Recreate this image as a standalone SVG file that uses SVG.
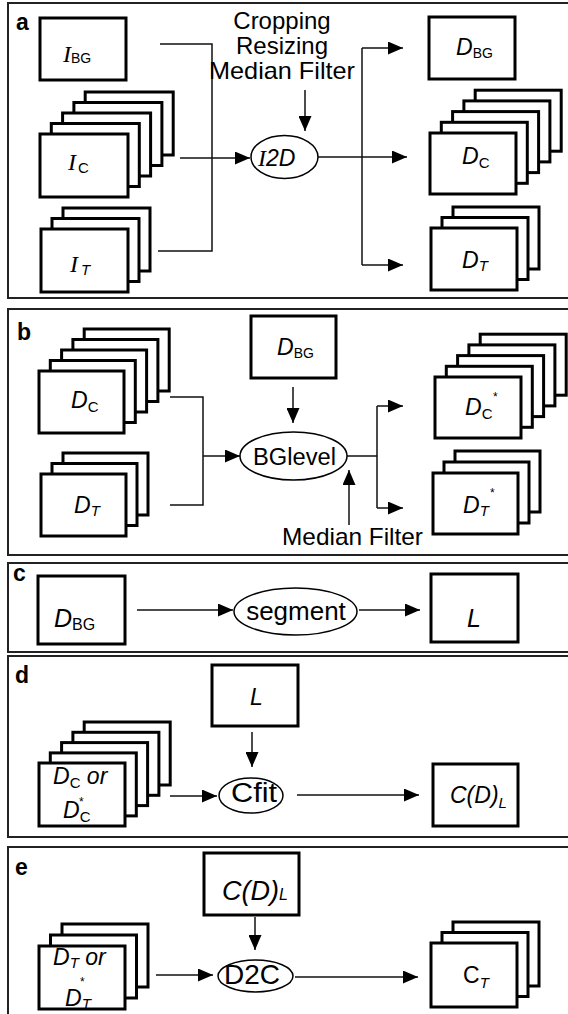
<svg xmlns="http://www.w3.org/2000/svg" width="568" height="1014" viewBox="0 0 568 1014">
<style>
.bg{fill:#fff}
.panel{fill:none;stroke:#222;stroke-width:2}
.box{fill:#fff;stroke:#000;stroke-width:3}
.ell{fill:#fff;stroke:#000;stroke-width:1.5}
.con path{fill:none;stroke:#111;stroke-width:1.5}
.arr{marker-end:url(#ah)}
text{font-family:"Liberation Sans",Arial,sans-serif;fill:#000}
.lab{font-size:23px;font-weight:bold}
.it{font-style:italic}
.ser{font-family:"Liberation Serif","Times New Roman",serif;font-style:italic;font-size:24px}
.m{font-size:23px}
.s{font-size:15px}
.s14{font-size:14px}
.ast{font-size:12px}
.big{font-size:24px}
</style>
<defs>
<marker id="ah" viewBox="0 0 15 13" refX="15" refY="6.5" markerWidth="15" markerHeight="13" markerUnits="userSpaceOnUse" orient="auto"><path d="M0,0L15,6.5L0,13z" fill="#000"/></marker>
</defs>
<rect class="bg" x="0" y="0" width="568" height="1014"/>

<!-- panel frames -->
<g id="panels">
<rect class="panel" x="8" y="3" width="575" height="295"/>
<rect class="panel" x="8" y="309" width="575" height="246"/>
<rect class="panel" x="8" y="563" width="575" height="89"/>
<rect class="panel" x="8" y="656" width="575" height="181"/>
<rect class="panel" x="8" y="847" width="575" height="190"/>
<text class="lab" x="16" y="30">a</text>
<text class="lab" x="17" y="340">b</text>
<text class="lab" x="13" y="581">c</text>
<text class="lab" x="15" y="683">d</text>
<text class="lab" x="15" y="875">e</text>
</g>

<!-- connectors -->
<g id="connectors" class="con">
<path d="M160,44H212V251H158"/>
<path class="arr" d="M180,158H250"/>
<path class="arr" d="M305,90V131"/>
<path class="arr" d="M318,157H407"/>
<path d="M362,48V265"/>
<path class="arr" d="M362,48H403"/>
<path class="arr" d="M362,265H403"/>

<path d="M170,397H203V505H170"/>
<path class="arr" d="M203,456H240"/>
<path class="arr" d="M293,387V423"/>
<path class="arr" d="M349,525V470"/>
<path d="M347,456H377M377,406V508"/>
<path class="arr" d="M377,406H403"/>
<path class="arr" d="M377,508H403"/>

<path class="arr" d="M137,610H233"/>
<path class="arr" d="M359,610H420"/>

<path class="arr" d="M252,732V767"/>
<path class="arr" d="M170,796H217"/>
<path class="arr" d="M297,795H419"/>

<path class="arr" d="M255,917V950"/>
<path class="arr" d="M156,975H213"/>
<path class="arr" d="M295,977H418"/>
</g>

<!-- panel a -->
<g id="a-IBG">
<rect class="box" x="40" y="18" width="86" height="62"/>
<text x="63" y="62"><tspan class="ser">I</tspan><tspan class="s14" dy="1">BG</tspan></text>
</g>
<g id="a-IC">
<rect class="box" x="85.2" y="92" width="88" height="63"/>
<rect class="box" x="73.9" y="102.5" width="88" height="63"/>
<rect class="box" x="62.6" y="113" width="88" height="63"/>
<rect class="box" x="51.3" y="123.5" width="88" height="63"/>
<rect class="box" x="40" y="134" width="88" height="63"/>
<text x="68" y="170"><tspan class="ser">I</tspan><tspan class="s" dx="2" dy="3">C</tspan></text>
</g>
<g id="a-IT">
<rect class="box" x="63" y="208" width="87" height="63"/>
<rect class="box" x="52" y="218.5" width="87" height="63"/>
<rect class="box" x="41" y="229" width="87" height="63"/>
<text x="70" y="272"><tspan class="ser">I</tspan><tspan class="s it" dx="3" dy="3">T</tspan></text>
</g>
<g id="a-text">
<text class="big" text-anchor="middle" x="282" y="29">Cropping</text>
<text class="big" text-anchor="middle" x="282" y="54">Resizing</text>
<text class="big" text-anchor="middle" x="282" y="79" textLength="146" lengthAdjust="spacingAndGlyphs">Median Filter</text>
</g>
<g id="a-I2D">
<ellipse class="ell" cx="284.5" cy="157" rx="33.5" ry="21.5"/>
<text x="258" y="166"><tspan class="ser">I</tspan><tspan class="m it">2D</tspan></text>
</g>
<g id="a-DBG">
<rect class="box" x="429" y="17" width="86" height="62"/>
<text x="456" y="55"><tspan class="m it">D</tspan><tspan class="s14" dy="3">BG</tspan></text>
</g>
<g id="a-DC">
<rect class="box" x="475.2" y="90.2" width="86" height="61"/>
<rect class="box" x="463.9" y="100.9" width="86" height="61"/>
<rect class="box" x="452.6" y="111.6" width="86" height="61"/>
<rect class="box" x="441.3" y="122.3" width="86" height="61"/>
<rect class="box" x="430" y="133" width="86" height="61"/>
<text x="462" y="164"><tspan class="m it">D</tspan><tspan class="s" dy="4">C</tspan></text>
</g>
<g id="a-DT">
<rect class="box" x="453" y="207" width="86" height="62"/>
<rect class="box" x="442" y="217.5" width="86" height="62"/>
<rect class="box" x="431" y="228" width="86" height="62"/>
<text x="462" y="268"><tspan class="m it">D</tspan><tspan class="s it" dy="3">T</tspan></text>
</g>

<!-- panel b -->
<g id="b-DC">
<rect class="box" x="84.2" y="329" width="85" height="62"/>
<rect class="box" x="72.9" y="339.5" width="85" height="62"/>
<rect class="box" x="61.6" y="350" width="85" height="62"/>
<rect class="box" x="50.3" y="360.5" width="85" height="62"/>
<rect class="box" x="39" y="371" width="85" height="62"/>
<text x="71" y="408"><tspan class="m it">D</tspan><tspan class="s" dy="4">C</tspan></text>
</g>
<g id="b-DT">
<rect class="box" x="63" y="453" width="85" height="62"/>
<rect class="box" x="52" y="463.5" width="85" height="62"/>
<rect class="box" x="41" y="474" width="85" height="62"/>
<text x="74" y="513"><tspan class="m it">D</tspan><tspan class="s it" dy="3">T</tspan></text>
</g>
<g id="b-DBG">
<rect class="box" x="251" y="316" width="85" height="62"/>
<text x="277" y="355"><tspan class="m it">D</tspan><tspan class="s14" dy="3">BG</tspan></text>
</g>
<g id="b-BGlevel">
<ellipse class="ell" cx="293.5" cy="456" rx="53.5" ry="24"/>
<text x="253" y="465" font-size="23" textLength="83" lengthAdjust="spacingAndGlyphs">BGlevel</text>
</g>
<g id="b-median">
<text x="282" y="545" font-size="24" textLength="141" lengthAdjust="spacingAndGlyphs">Median Filter</text>
</g>
<g id="b-DCs">
<rect class="box" x="480.2" y="334.2" width="86" height="61"/>
<rect class="box" x="468.9" y="344.9" width="86" height="61"/>
<rect class="box" x="457.6" y="355.6" width="86" height="61"/>
<rect class="box" x="446.3" y="366.3" width="86" height="61"/>
<rect class="box" x="435" y="377" width="86" height="61"/>
<text x="465" y="415"><tspan class="m it">D</tspan><tspan class="s" dy="4">C</tspan></text>
<text class="ast" x="493" y="401">*</text>
</g>
<g id="b-DTs">
<rect class="box" x="455" y="451" width="85" height="61"/>
<rect class="box" x="444" y="462" width="85" height="61"/>
<rect class="box" x="433" y="473" width="85" height="61"/>
<text x="463" y="513"><tspan class="m it">D</tspan><tspan class="s it" dy="3">T</tspan></text>
<text class="ast" x="490" y="497">*</text>
</g>

<!-- panel c -->
<g id="c-DBG">
<rect class="box" x="38" y="576" width="87" height="68"/>
<text x="54" y="627"><tspan class="it" font-size="25">D</tspan><tspan font-size="16" dy="3">BG</tspan></text>
</g>
<g id="c-segment">
<ellipse class="ell" cx="295.5" cy="611.5" rx="61.5" ry="23.5"/>
<text x="296" y="620" text-anchor="middle" font-size="26">segment</text>
</g>
<g id="c-L">
<rect class="box" x="431" y="574" width="87" height="68"/>
<text x="467" y="627" class="it" font-size="25">L</text>
</g>

<!-- panel d -->
<g id="d-L">
<rect class="box" x="212" y="665" width="86" height="61"/>
<text x="250" y="705" class="m it">L</text>
</g>
<g id="d-DC">
<rect class="box" x="84.2" y="722" width="86" height="63"/>
<rect class="box" x="72.9" y="732.3" width="86" height="63"/>
<rect class="box" x="61.6" y="742.6" width="86" height="63"/>
<rect class="box" x="50.3" y="752.9" width="86" height="63"/>
<rect class="box" x="39" y="763" width="86" height="63"/>
<text x="53" y="784"><tspan class="m it">D</tspan><tspan class="s" dy="4">C</tspan><tspan class="m it" dy="-4"> or</tspan></text>
<text x="63" y="818"><tspan class="m it">D</tspan><tspan class="s" dy="4">C</tspan></text>
<text class="ast" x="79" y="806">*</text>
</g>
<g id="d-Cfit">
<ellipse class="ell" cx="251" cy="795.5" rx="32" ry="17.5"/>
<text x="231" y="802" font-size="27" textLength="46" lengthAdjust="spacingAndGlyphs">Cfit</text>
</g>
<g id="d-CDL">
<rect class="box" x="433" y="764" width="85" height="62"/>
<text x="450" y="803"><tspan class="m it">C(D)</tspan><tspan class="s it" dy="5">L</tspan></text>
</g>

<!-- panel e -->
<g id="e-CDL">
<rect class="box" x="204" y="853" width="95" height="62"/>
<text x="222" y="900"><tspan class="it" font-size="27">C(D)</tspan><tspan class="it" font-size="16" dy="0">L</tspan></text>
</g>
<g id="e-DT">
<rect class="box" x="62" y="924" width="86" height="63"/>
<rect class="box" x="50.5" y="935" width="86" height="63"/>
<rect class="box" x="39" y="946" width="86" height="63"/>
<text x="53" y="965"><tspan class="m it">D</tspan><tspan class="s it" dy="3">T</tspan><tspan class="m it" dy="-3"> or</tspan></text>
<text x="65" y="1006"><tspan class="m it">D</tspan><tspan class="s it" dy="3">T</tspan></text>
<text class="ast" x="80" y="986">*</text>
</g>
<g id="e-D2C">
<ellipse class="ell" cx="255.5" cy="976" rx="37.5" ry="16"/>
<text x="224" y="984" font-size="28">D2C</text>
</g>
<g id="e-CT">
<rect class="box" x="453" y="922" width="86" height="64"/>
<rect class="box" x="442" y="932.5" width="86" height="64"/>
<rect class="box" x="431" y="943" width="86" height="64"/>
<text x="463" y="983"><tspan class="m">C</tspan><tspan class="s it" dy="5">T</tspan></text>
</g>
</svg>
